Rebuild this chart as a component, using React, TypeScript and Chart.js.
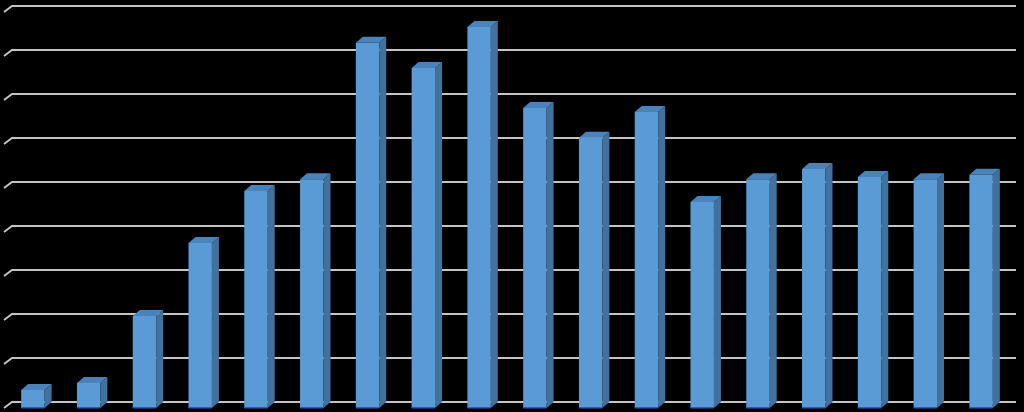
import React, { useEffect, useRef } from "react";
import { Chart, registerables } from "chart.js";

Chart.register(...registerables);

const categories = ["1", "2", "3", "4", "5", "6", "7", "8", "9", "10", "11", "12", "13", "14", "15", "16", "17", "18"];
const values = [4.1, 5.7, 20.9, 37.5, 49.3, 52, 83, 77.3, 86.6, 68.2, 61.4, 67.3, 46.8, 52, 54.3, 52.5, 52, 53];
const yMin = 0;
const yMax = 90;
const yStep = 10;

const DX = 7;
const DY = 6;
const FRONT = "#5b9bd5";
const SIDE = "#41719c";
const TOP = "#4a82bb";
const GRID = "#c4c4c4";

const threeD = {
  id: "threeD",
  beforeDatasetsDraw(chart: any) {
    const ctx = chart.ctx;
    const yScale = chart.scales.y;
    const area = chart.chartArea;
    ctx.save();
    ctx.strokeStyle = GRID;
    ctx.lineWidth = 2;
    for (let v = yMin; v <= yMax; v += yStep) {
      const y = yScale.getPixelForValue(v);
      ctx.beginPath();
      ctx.moveTo(area.left - 1, y);
      ctx.lineTo(area.left + DX, y - DY);
      ctx.lineTo(area.right + DX, y - DY);
      ctx.stroke();
    }
    ctx.restore();
  },
  afterDatasetsDraw(chart: any) {
    const ctx = chart.ctx;
    const meta = chart.getDatasetMeta(0);
    ctx.save();
    meta.data.forEach((bar: any) => {
      const p = bar.getProps(["x", "y", "base", "width"], true);
      const l = p.x - p.width / 2;
      const r = p.x + p.width / 2;
      const t = p.y;
      const b = p.base;
      ctx.fillStyle = SIDE;
      ctx.beginPath();
      ctx.moveTo(r, t);
      ctx.lineTo(r + DX, t - DY);
      ctx.lineTo(r + DX, b - DY);
      ctx.lineTo(r, b);
      ctx.closePath();
      ctx.fill();
      ctx.fillStyle = TOP;
      ctx.beginPath();
      ctx.moveTo(l, t);
      ctx.lineTo(l + DX, t - DY);
      ctx.lineTo(r + DX, t - DY);
      ctx.lineTo(r, t);
      ctx.closePath();
      ctx.fill();
      ctx.fillStyle = "#2f55c8";
      ctx.fillRect(l, b - 1, r - l, 1.5);
    });
    ctx.restore();
  },
};

export default function App() {
  const ref = useRef<HTMLCanvasElement>(null);
  useEffect(() => {
    if (!ref.current) return;
    const chart = new Chart(ref.current, {
      type: "bar",
      data: {
        labels: categories,
        datasets: [
          {
            data: values,
            backgroundColor: FRONT,
            borderWidth: 0,
            barPercentage: 1,
            categoryPercentage: 0.42,
          },
        ],
      },
      options: {
        animation: false,
        responsive: false,
        maintainAspectRatio: false,
        layout: { padding: { left: 5, right: 15, top: 12, bottom: 4 } },
        plugins: { legend: { display: false }, tooltip: { enabled: false } },
        scales: {
          x: { display: false },
          y: { display: false, min: yMin, max: yMax, ticks: { stepSize: yStep } },
        },
      },
      plugins: [threeD],
    });
    return () => chart.destroy();
  }, []);
  return (
    <div style={{ position: "fixed", left: 0, top: 0, width: 1024, height: 412, background: "#000" }}>
      <canvas ref={ref} width={1024} height={412} style={{ display: "block" }} />
    </div>
  );
}
